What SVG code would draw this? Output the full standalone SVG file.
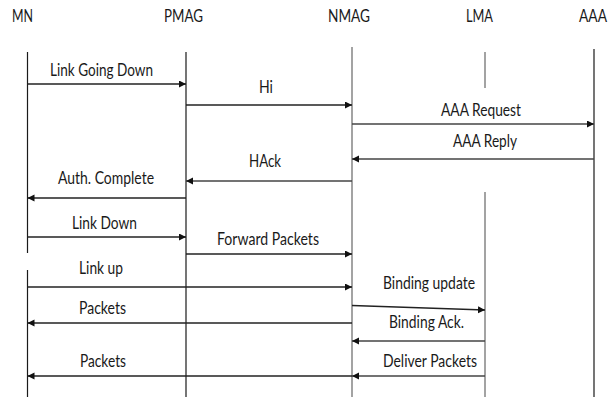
<svg xmlns="http://www.w3.org/2000/svg" width="614" height="398" viewBox="0 0 614 398">
<style>
  text { font-family: Lato, "Open Sans", "Liberation Sans", sans-serif; font-size: 16.5px; fill: #1a1a1a; text-anchor: middle; }
  .life { stroke: #1a1a1a; stroke-width: 1.2; fill: none; }
  .life.g { stroke: #666; }
  .msg { stroke: #222; stroke-width: 1.3; fill: none; marker-end: url(#ah); }
  .msg.g { stroke: #444; }
</style>
<defs>
  <marker id="ah" markerUnits="userSpaceOnUse" markerWidth="8" markerHeight="8" refX="7" refY="3.5" orient="auto">
    <path d="M0,0 L7,3.5 L0,7 z" fill="#111"/>
  </marker>
</defs>
<rect width="614" height="398" fill="#fff"/>

<g id="MN">
  <text x="22.5" y="21.5" textLength="21" lengthAdjust="spacingAndGlyphs">MN</text>
  <line class="life" x1="27.5" y1="52" x2="27.5" y2="253"/>
  <line class="life" x1="27.5" y1="270" x2="27.5" y2="397"/>
</g>
<g id="PMAG">
  <text x="183.5" y="21.5" textLength="39" lengthAdjust="spacingAndGlyphs">PMAG</text>
  <line class="life" x1="186" y1="52" x2="186" y2="397"/>
</g>
<g id="NMAG">
  <text x="349" y="21.5" textLength="42" lengthAdjust="spacingAndGlyphs">NMAG</text>
  <line class="life g" x1="352" y1="47" x2="352" y2="397"/>
</g>
<g id="LMA">
  <text x="479.5" y="21.5" textLength="27" lengthAdjust="spacingAndGlyphs">LMA</text>
  <line class="life g" x1="485" y1="52" x2="485" y2="88"/>
  <line class="life g" x1="485" y1="192" x2="485" y2="397"/>
</g>
<g id="AAA">
  <text x="593" y="21.5" textLength="28" lengthAdjust="spacingAndGlyphs">AAA</text>
  <line class="life" x1="594" y1="49" x2="594" y2="397"/>
</g>

<g id="connectors">
  <g id="m1"><line class="msg" x1="27.5" y1="84" x2="186" y2="84"/>
    <text x="101.5" y="76" textLength="103" lengthAdjust="spacingAndGlyphs">Link Going Down</text></g>
  <g id="m2"><line class="msg" x1="186" y1="105" x2="352" y2="105"/>
    <text x="266" y="93" textLength="14" lengthAdjust="spacingAndGlyphs">Hi</text></g>
  <g id="m3"><line class="msg g" x1="352" y1="124" x2="594" y2="124"/>
    <text x="481" y="116" textLength="80" lengthAdjust="spacingAndGlyphs">AAA Request</text></g>
  <g id="m4"><line class="msg g" x1="594" y1="159" x2="352" y2="159"/>
    <text x="485" y="147" textLength="64" lengthAdjust="spacingAndGlyphs">AAA Reply</text></g>
  <g id="m5"><line class="msg g" x1="352" y1="181" x2="186" y2="181"/>
    <text x="265" y="167" textLength="32" lengthAdjust="spacingAndGlyphs">HAck</text></g>
  <g id="m6"><line class="msg" x1="186" y1="198" x2="27.5" y2="198"/>
    <text x="106" y="184" textLength="96" lengthAdjust="spacingAndGlyphs">Auth. Complete</text></g>
  <g id="m7"><line class="msg" x1="27.5" y1="237" x2="186" y2="237"/>
    <text x="104.5" y="229" textLength="65" lengthAdjust="spacingAndGlyphs">Link Down</text></g>
  <g id="m8"><line class="msg" x1="186" y1="254" x2="352" y2="254"/>
    <text x="268" y="245" textLength="102" lengthAdjust="spacingAndGlyphs">Forward Packets</text></g>
  <g id="m9"><line class="msg" x1="27.5" y1="287" x2="352" y2="287"/>
    <text x="101" y="274" textLength="44" lengthAdjust="spacingAndGlyphs">Link up</text></g>
  <g id="m10"><line class="msg" x1="352" y1="305.5" x2="485" y2="310"/>
    <text x="429" y="289" textLength="92" lengthAdjust="spacingAndGlyphs">Binding update</text></g>
  <g id="m11"><line class="msg" x1="352" y1="323" x2="27.5" y2="323"/>
    <text x="102.5" y="314" textLength="47" lengthAdjust="spacingAndGlyphs">Packets</text></g>
  <g id="m12"><line class="msg g" x1="485" y1="341" x2="352" y2="341"/>
    <text x="426.5" y="328" textLength="75" lengthAdjust="spacingAndGlyphs">Binding Ack.</text></g>
  <g id="m13"><line class="msg" x1="352" y1="376" x2="27.5" y2="376"/>
    <text x="103" y="367" textLength="46" lengthAdjust="spacingAndGlyphs">Packets</text></g>
  <g id="m14"><line class="msg g" x1="485" y1="376" x2="352" y2="376"/>
    <text x="430" y="367" textLength="94" lengthAdjust="spacingAndGlyphs">Deliver Packets</text></g>
</g>
</svg>
